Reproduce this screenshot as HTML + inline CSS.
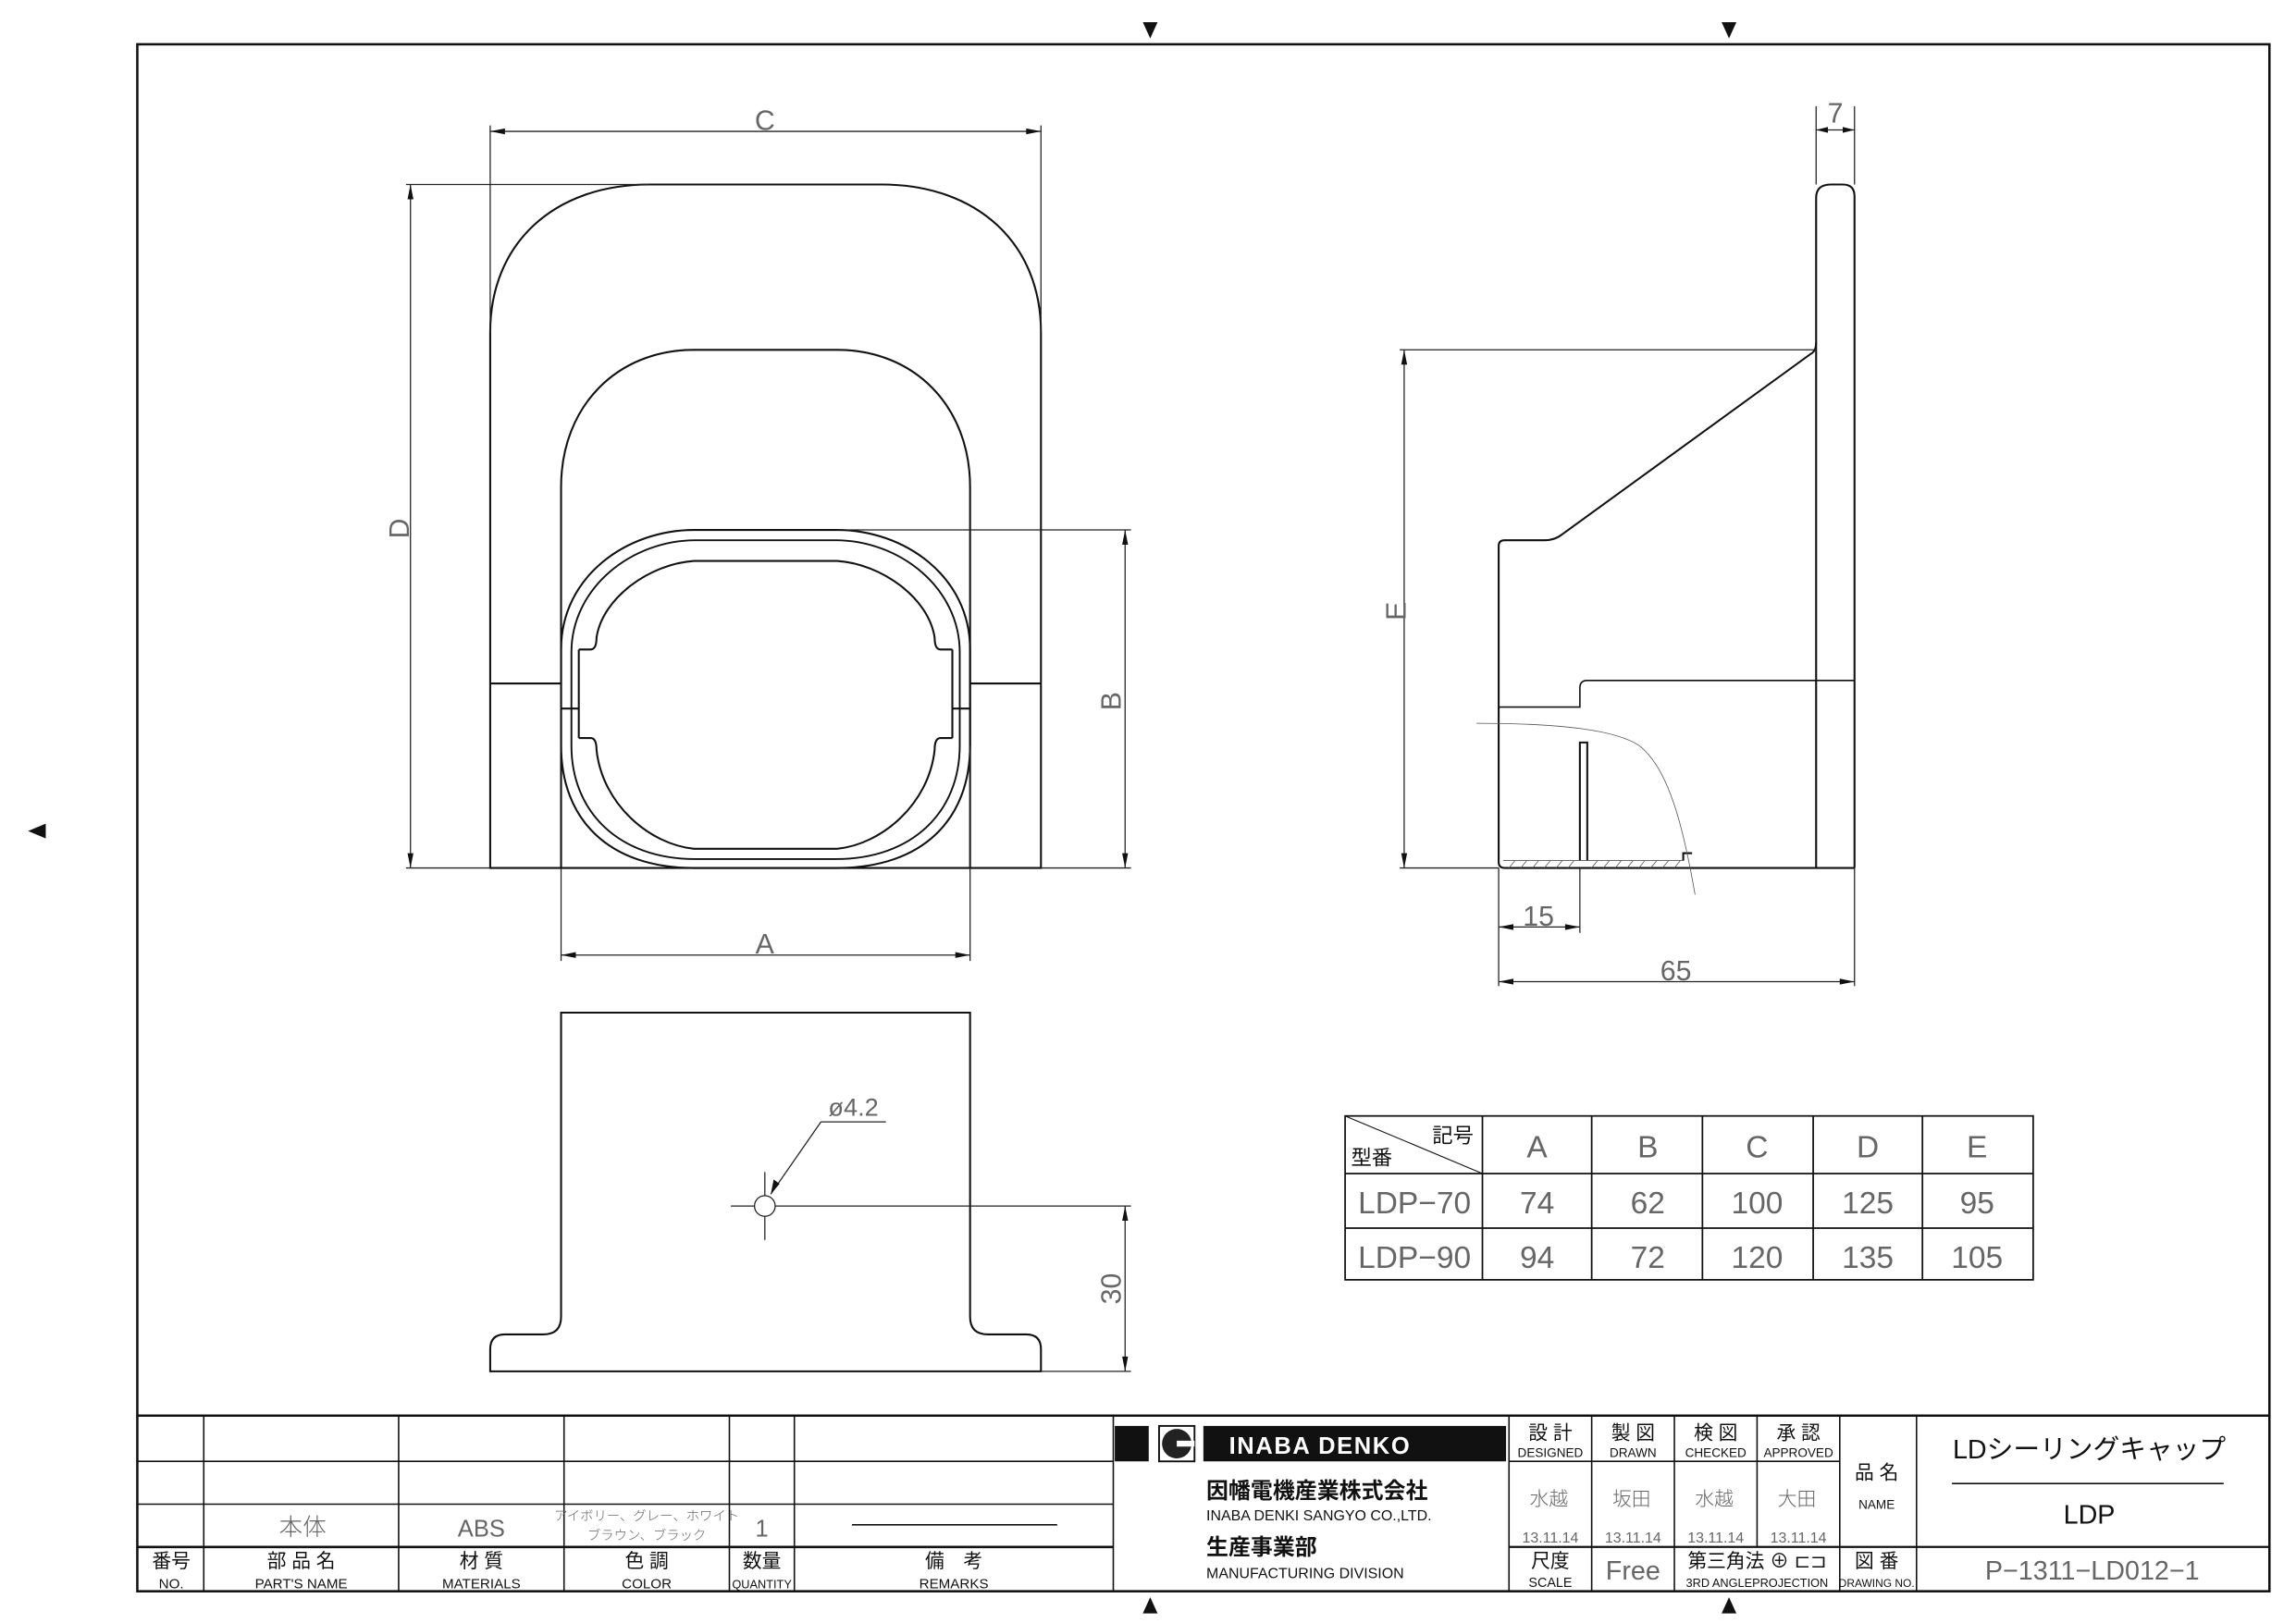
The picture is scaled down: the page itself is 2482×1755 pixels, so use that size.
<!DOCTYPE html>
<html><head><meta charset="utf-8"><style>
html,body{margin:0;padding:0;background:#fff;}
svg{display:block;}
text{font-family:"Liberation Sans","Noto Sans CJK JP",sans-serif;}
.t{fill:#666;font-weight:300;}
.k{fill:#111;}
</style></head><body>
<svg width="2482" height="1755" viewBox="0 0 1555 1099.5" preserveAspectRatio="none" xmlns="http://www.w3.org/2000/svg">
<rect width="1555" height="1100" fill="#fff"/>
<g fill="none" stroke="#111" stroke-width="1.6">
<rect x="93" y="30" width="1444" height="1048"/>
</g>
<!-- markers -->
<g fill="#111">
<polygon points="774,15 784,15 779,26"/>
<polygon points="1166,15 1176,15 1171,26"/>
<polygon points="774,1093 784,1093 779,1082"/>
<polygon points="1166,1093 1176,1093 1171,1082"/>
<polygon points="31,558 31,568 19,563"/>
</g>

<!-- FRONT VIEW -->
<g fill="none" stroke="#111" stroke-width="1.3">
<path d="M332 588 L332 225 C332 165 375 125 440 125 L597 125 C662 125 705 165 705 225 L705 588 Z"/>
<path d="M380 588 L380 330 C380 275 418 237 470 237 L567 237 C619 237 657 275 657 330 L657 588"/>
<line x1="332" y1="463" x2="380" y2="463"/><line x1="657" y1="463" x2="705" y2="463"/>
<path d="M380 465 L380 440 C380 390 425 359 470 359 L567 359 C612 359 657 390 657 440 L657 505 C657 555 625 588 567 588 L470 588 C412 588 380 555 380 505 Z"/>
<path d="M387 470 L387 442 C387 398 428 366 471 366 L566 366 C609 366 650 398 650 442 L650 505 C650 550 618 582 566 582 L471 582 C419 582 387 550 387 505 Z" stroke-width="1.2"/>
<path d="M392 440 L400 440 Q404 440 404 432 C408 405 440 382 470 380 L567 380 C597 382 629 405 633 432 Q633 440 637 440 L645 440"/>
<path d="M392 500 L400 500 Q404 500 404 508 C408 545 440 572 470 575 L567 575 C597 572 629 545 633 508 Q633 500 637 500 L645 500"/>
<line x1="380" y1="480" x2="392" y2="480"/><line x1="645" y1="480" x2="657" y2="480"/>
<line x1="392" y1="440" x2="392" y2="500"/><line x1="645" y1="440" x2="645" y2="500"/>
</g>
<g fill="none" stroke="#222" stroke-width="0.8">
<line x1="332" y1="85" x2="332" y2="225"/><line x1="705" y1="85" x2="705" y2="225"/>
<line x1="332" y1="89" x2="705" y2="89"/>
<line x1="275" y1="125" x2="440" y2="125"/><line x1="275" y1="588" x2="332" y2="588"/>
<line x1="278" y1="125" x2="278" y2="588"/>
<line x1="567" y1="359" x2="766" y2="359"/><line x1="705" y1="588" x2="766" y2="588"/>
<line x1="762" y1="359" x2="762" y2="588"/>
<line x1="380" y1="588" x2="380" y2="651"/><line x1="657" y1="505" x2="657" y2="651"/>
<line x1="380" y1="647" x2="657" y2="647"/>
</g>
<g fill="#111">
<polygon points="332,89 342,87 342,91"/><polygon points="705,89 695,87 695,91"/>
<polygon points="278,125 276,135 280,135"/><polygon points="278,588 276,578 280,578"/>
<polygon points="762,359 760,369 764,369"/><polygon points="762,588 760,578 764,578"/>
<polygon points="380,647 390,645 390,649"/><polygon points="657,647 647,645 647,649"/>
</g>
<g class="t" font-size="19" text-anchor="middle">
<text x="518" y="88">C</text>
<text x="518" y="646">A</text>
<text transform="translate(277,358) rotate(-90)">D</text>
<text transform="translate(759,475) rotate(-90)">B</text>
</g>

<!-- BOTTOM VIEW -->
<g fill="none" stroke="#111" stroke-width="1.3">
<path d="M380 686 L657 686 L657 892 Q657 904 669 904 L695 904 Q705 904 705 914 L705 929 L332 929 L332 914 Q332 904 342 904 L368 904 Q380 904 380 892 Z"/>
</g>
<g fill="#fff" stroke="none"><rect x="470" y="900" width="97" height="8"/></g>
<g fill="none" stroke="#222" stroke-width="0.8">
<circle cx="518" cy="817" r="7"/>
<line x1="495" y1="817" x2="511" y2="817"/><line x1="525" y1="817" x2="766" y2="817"/>
<line x1="518" y1="794" x2="518" y2="810"/><line x1="518" y1="824" x2="518" y2="840"/>
<line x1="522" y1="809" x2="556" y2="760"/><line x1="556" y1="760" x2="600" y2="760"/>
<line x1="705" y1="929" x2="766" y2="929"/>
<line x1="762" y1="817" x2="762" y2="929"/>
</g>
<g fill="#111">
<polygon points="522,809 524,799 528,802"/>
<polygon points="762,817 760,827 764,827"/><polygon points="762,929 760,919 764,919"/>
</g>
<g class="t" font-size="17" text-anchor="middle">
<text x="578" y="756">ø4.2</text>
<text transform="translate(759,873) rotate(-90)" font-size="19">30</text>
</g>

<!-- SIDE VIEW -->
<g fill="none" stroke="#111" stroke-width="1.3">
<path d="M1230 588 L1230 134 Q1230 125 1240 125 L1248 125 Q1256 125 1256 133 L1256 588"/>
<path d="M1230 232 Q1230 238 1226 240 L1058 362 Q1053 366 1046 366 L1019 366 Q1015 366 1015 370 L1015 584 Q1015 588 1019 588 L1256 588"/>
<path d="M1015 479 L1070 479 L1070 466 Q1070 461 1075 461 L1256 461" stroke-width="1"/>
<path d="M1070 583 L1070 503 L1075 503 L1075 583"/>
<path d="M1140 583 L1140 578 L1146 578"/>
</g>
<g fill="none" stroke="#555" stroke-width="0.5">
<path d="M1018 583 L1140 583"/>
<path d="M1022 588 l4 -5 M1030 588 l4 -5 M1038 588 l4 -5 M1046 588 l4 -5 M1054 588 l4 -5 M1062 588 l4 -5 M1078 588 l4 -5 M1086 588 l4 -5 M1094 588 l4 -5 M1102 588 l4 -5 M1110 588 l4 -5 M1118 588 l4 -5 M1126 588 l4 -5 M1134 588 l4 -5"/>
<path d="M1000 490 C1060 490 1095 495 1110 505 C1130 520 1140 560 1148 606"/>
</g>
<g fill="none" stroke="#222" stroke-width="0.8">
<line x1="948" y1="237" x2="1230" y2="237"/><line x1="948" y1="588" x2="1015" y2="588"/>
<line x1="951" y1="237" x2="951" y2="588"/>
<line x1="1230" y1="72" x2="1230" y2="125"/><line x1="1256" y1="72" x2="1256" y2="125"/>
<line x1="1230" y1="88" x2="1256" y2="88"/>
<line x1="1015" y1="588" x2="1015" y2="668"/><line x1="1070" y1="588" x2="1070" y2="632"/><line x1="1256" y1="588" x2="1256" y2="668"/>
<line x1="1015" y1="628" x2="1070" y2="628"/>
<line x1="1015" y1="665" x2="1256" y2="665"/>
</g>
<g fill="#111">
<polygon points="951,237 949,247 953,247"/><polygon points="951,588 949,578 953,578"/>
<polygon points="1230,88 1238,86 1238,90"/><polygon points="1256,88 1248,86 1248,90"/>
<polygon points="1015,628 1025,626 1025,630"/><polygon points="1070,628 1060,626 1060,630"/>
<polygon points="1015,665 1025,663 1025,667"/><polygon points="1256,665 1246,663 1246,667"/>
</g>
<g class="t" font-size="19" text-anchor="middle">
<text x="1243" y="83">7</text>
<text x="1042" y="627">15</text>
<text x="1135" y="664">65</text>
<text transform="translate(952,414) rotate(-90)">E</text>
</g>

<!-- TABLE -->
<g fill="none" stroke="#111" stroke-width="1.1">
<rect x="911" y="756" width="466" height="111"/>
<line x1="911" y1="795" x2="1377" y2="795"/><line x1="911" y1="832" x2="1377" y2="832"/>
<line x1="1004" y1="756" x2="1004" y2="867"/><line x1="1078" y1="756" x2="1078" y2="867"/>
<line x1="1153" y1="756" x2="1153" y2="867"/><line x1="1228" y1="756" x2="1228" y2="867"/>
<line x1="1302" y1="756" x2="1302" y2="867"/>
<line x1="911" y1="756" x2="1004" y2="795" stroke-width="0.7"/>
</g>
<g class="t" font-size="21" text-anchor="middle">
<text x="1041" y="784">A</text><text x="1116" y="784">B</text><text x="1190" y="784">C</text><text x="1265" y="784">D</text><text x="1339" y="784">E</text>
<text x="958" y="822">LDP−70</text><text x="1041" y="822">74</text><text x="1116" y="822">62</text><text x="1190" y="822">100</text><text x="1265" y="822">125</text><text x="1339" y="822">95</text>
<text x="958" y="859">LDP−90</text><text x="1041" y="859">94</text><text x="1116" y="859">72</text><text x="1190" y="859">120</text><text x="1265" y="859">135</text><text x="1339" y="859">105</text>
</g>
<g class="k" font-size="14"><text x="970" y="774">記号</text><text x="915" y="789">型番</text></g>

<!-- TITLE BLOCK -->
<g fill="none" stroke="#111" stroke-width="1">
<line x1="93" y1="959" x2="1537" y2="959" stroke-width="1.6"/>
<line x1="93" y1="990" x2="754" y2="990"/><line x1="93" y1="1019" x2="754" y2="1019"/>
<line x1="93" y1="1048" x2="754" y2="1048" stroke-width="1.6"/>
<line x1="138" y1="959" x2="138" y2="1078"/><line x1="270" y1="959" x2="270" y2="1078"/>
<line x1="382" y1="959" x2="382" y2="1078"/><line x1="494" y1="959" x2="494" y2="1078"/>
<line x1="538" y1="959" x2="538" y2="1078"/><line x1="754" y1="959" x2="754" y2="1078"/>
<line x1="577" y1="1033" x2="716" y2="1033"/>
<line x1="1022" y1="959" x2="1022" y2="1078"/><line x1="1078" y1="959" x2="1078" y2="1078"/>
<line x1="1134" y1="959" x2="1134" y2="1078"/><line x1="1190" y1="959" x2="1190" y2="1048"/>
<line x1="1246" y1="959" x2="1246" y2="1078"/><line x1="1298" y1="959" x2="1298" y2="1078"/>
<line x1="1022" y1="990" x2="1246" y2="990"/>
<line x1="1022" y1="1048" x2="1537" y2="1048" stroke-width="1.4"/>
<line x1="1322" y1="1005" x2="1506" y2="1005"/>
</g>
<!-- logo -->
<rect x="755" y="966" width="23" height="24" fill="#111"/>
<rect x="785" y="966" width="24" height="24" fill="#fff" stroke="#111" stroke-width="1.2"/>
<circle cx="797" cy="978" r="10" fill="#222"/>
<rect x="797" y="976" width="12" height="4" fill="#fff"/>
<rect x="815" y="966" width="205" height="24" fill="#111"/>
<text x="894" y="985" font-size="16" font-weight="bold" fill="#fff" text-anchor="middle" letter-spacing="1">INABA DENKO</text>
<g class="k">
<text x="817" y="1015" font-size="15" font-weight="bold">因幡電機産業株式会社</text>
<text x="817" y="1030" font-size="10">INABA DENKI SANGYO CO.,LTD.</text>
<text x="817" y="1053" font-size="15" font-weight="bold">生産事業部</text>
<text x="817" y="1069" font-size="10">MANUFACTURING DIVISION</text>
</g>
<g class="k" text-anchor="middle">
<g font-size="13"><text x="1050" y="975">設 計</text><text x="1106" y="975">製 図</text><text x="1162" y="975">検 図</text><text x="1218" y="975">承 認</text></g>
<g font-size="8.5"><text x="1050" y="987">DESIGNED</text><text x="1106" y="987">DRAWN</text><text x="1162" y="987">CHECKED</text><text x="1218" y="987">APPROVED</text></g>
<text x="1271" y="1002" font-size="13">品 名</text><text x="1271" y="1022" font-size="8.5">NAME</text>
<text x="1050" y="1062" font-size="13">尺度</text><text x="1050" y="1075" font-size="9">SCALE</text>
<text x="1190" y="1062" font-size="13">第三角法 ⊕ ⊏⊐</text><text x="1190" y="1075" font-size="8">3RD ANGLEPROJECTION</text>
<text x="1271" y="1062" font-size="13">図 番</text><text x="1271" y="1075" font-size="7.5">DRAWING NO.</text>
<text x="1415" y="988" font-size="18">LDシーリングキャップ</text>
<text x="1415" y="1032" font-size="18">LDP</text>
<g font-size="13"><text x="116" y="1062">番号</text><text x="204" y="1062">部 品 名</text><text x="326" y="1062">材 質</text><text x="438" y="1062">色 調</text><text x="516" y="1062">数量</text><text x="646" y="1062">備　考</text></g>
<g font-size="9.5"><text x="116" y="1076">NO.</text><text x="204" y="1076">PART'S NAME</text><text x="326" y="1076">MATERIALS</text><text x="438" y="1076">COLOR</text><text x="516" y="1076" font-size="8">QUANTITY</text><text x="646" y="1076">REMARKS</text></g>
</g>
<g class="t" text-anchor="middle">
<text x="1049" y="1020" font-size="13">水越</text><text x="1105" y="1020" font-size="13">坂田</text><text x="1161" y="1020" font-size="13">水越</text><text x="1217" y="1020" font-size="13">大田</text>
<g font-size="10"><text x="1050" y="1045">13.11.14</text><text x="1106" y="1045">13.11.14</text><text x="1162" y="1045">13.11.14</text><text x="1218" y="1045">13.11.14</text></g>
<text x="1106" y="1070" font-size="18">Free</text>
<text x="1417" y="1070" font-size="18">P−1311−LD012−1</text>
<text x="205" y="1040" font-size="16">本体</text>
<text x="326" y="1041" font-size="16">ABS</text>
<text x="438" y="1030" font-size="9">アイボリー、グレー、ホワイト</text>
<text x="438" y="1043" font-size="9">ブラウン、ブラック</text>
<text x="516" y="1041" font-size="16">1</text>
</g>
</svg>
</body></html>
